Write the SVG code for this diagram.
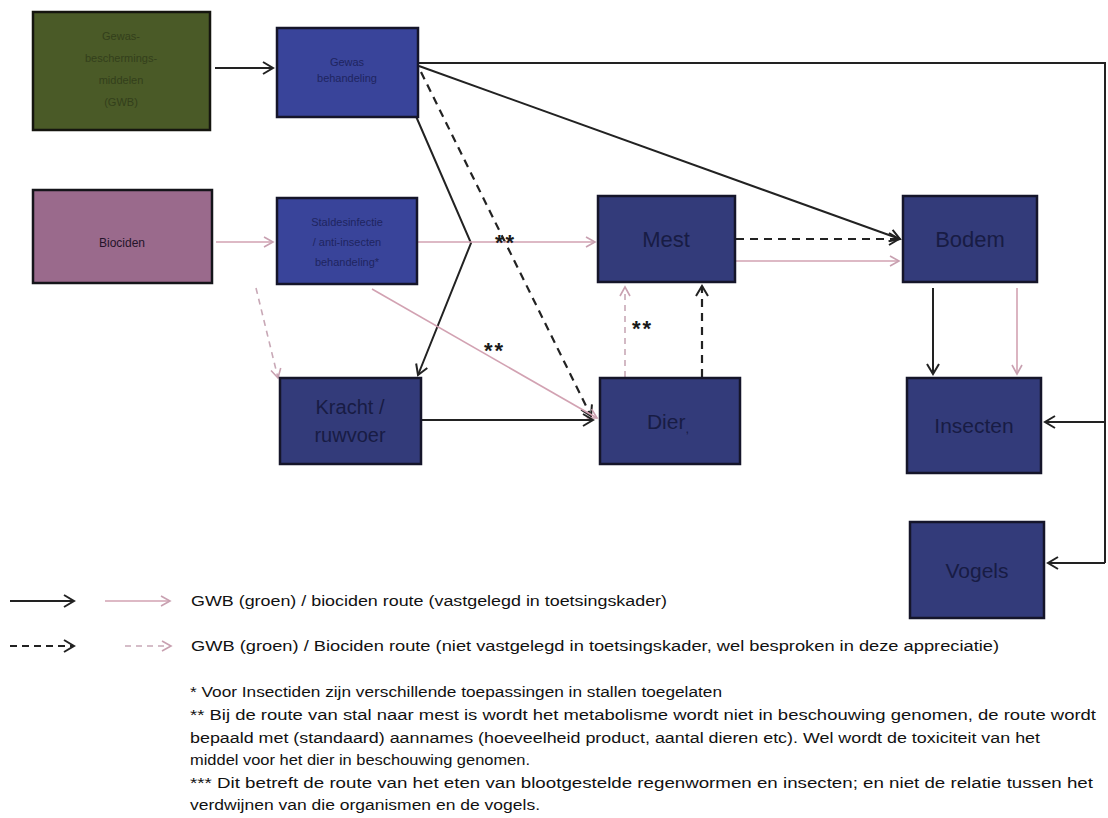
<svg xmlns="http://www.w3.org/2000/svg" width="1108" height="818" viewBox="0 0 1108 818">
<style>
.box{fill:#333b7a;stroke:#15152a;stroke-width:2.5}
.bt{font-family:"Liberation Sans",Arial,sans-serif;fill:#181c44;text-anchor:middle}
.k{fill:none;stroke:#222;stroke-width:2}
.kd{fill:none;stroke:#222;stroke-width:2.2;stroke-dasharray:8 6}
.p{fill:none;stroke:#d2a2b2;stroke-width:1.6}
.pd{fill:none;stroke:#c8a8b6;stroke-width:1.6;stroke-dasharray:6 5}
.t{font-family:"Liberation Sans",Arial,sans-serif;font-size:14px;fill:#111}
.st{font-family:"Liberation Sans",Arial,sans-serif;font-size:22px;font-weight:bold;fill:#1a1a1a;letter-spacing:2px}
</style>
<defs>
<marker id="ak" markerWidth="14" markerHeight="14" refX="12" refY="7" orient="auto" markerUnits="userSpaceOnUse"><path d="M2,1 L12,7 L2,13" fill="none" stroke="#222" stroke-width="2"/></marker>
<marker id="ap" markerWidth="14" markerHeight="14" refX="12" refY="7" orient="auto" markerUnits="userSpaceOnUse"><path d="M3,2 L12,7 L3,12" fill="none" stroke="#c8a0b0" stroke-width="1.6"/></marker>
</defs>
<rect width="1108" height="818" fill="#ffffff"/>

<g id="connectors">
<line class="k" x1="215" y1="68" x2="273" y2="68" marker-end="url(#ak)"/>
<polyline class="k" points="418,63 1105,63 1105,563"/>
<line class="k" x1="1105" y1="422" x2="1045" y2="422" marker-end="url(#ak)"/>
<line class="k" x1="1105" y1="563" x2="1048" y2="563" marker-end="url(#ak)"/>
<line class="k" x1="419" y1="66" x2="900" y2="239" marker-end="url(#ak)"/>
<line class="kd" x1="421" y1="72" x2="591" y2="416" marker-end="url(#ak)"/>
<polyline class="k" points="415,114 471,243 418,375" marker-end="url(#ak)"/>
<line class="p" x1="216" y1="242" x2="273" y2="242" marker-end="url(#ap)"/>
<line class="p" x1="418" y1="242" x2="595" y2="242" marker-end="url(#ap)"/>
<line class="p" x1="372" y1="289" x2="597" y2="418" marker-end="url(#ap)"/>
<line class="pd" x1="256" y1="288" x2="278" y2="378" marker-end="url(#ap)"/>
<line class="k" x1="421" y1="420" x2="593" y2="420" marker-end="url(#ak)"/>
<line class="pd" x1="625" y1="377" x2="625" y2="287" marker-end="url(#ap)"/>
<line class="kd" x1="702" y1="377" x2="702" y2="286" marker-end="url(#ak)"/>
<line class="kd" x1="736" y1="239" x2="899" y2="239" marker-end="url(#ak)"/>
<line class="p" x1="736" y1="261" x2="899" y2="261" marker-end="url(#ap)"/>
<line class="k" x1="933" y1="288" x2="933" y2="374" marker-end="url(#ak)"/>
<line class="p" x1="1017" y1="288" x2="1017" y2="374" marker-end="url(#ap)"/>
<text class="st" x="495" y="250">**</text>
<text class="st" x="484" y="358">**</text>
<text class="st" x="632" y="336">**</text>
</g>

<g id="gwb">
<rect x="33" y="12" width="177" height="118" fill="#4a5a27" stroke="#15150f" stroke-width="2.5"/>
<text class="bt" x="121" y="40" font-size="11" style="fill:#333f1b">Gewas-</text>
<text class="bt" x="121" y="62" font-size="11" style="fill:#333f1b">beschermings-</text>
<text class="bt" x="121" y="84" font-size="11" style="fill:#333f1b">middelen</text>
<text class="bt" x="121" y="106" font-size="11" style="fill:#333f1b">(GWB)</text>
</g>
<g id="gewasbehandeling">
<rect class="box" x="277" y="28" width="141" height="89" style="fill:#39449a"/>
<text class="bt" x="347" y="66" font-size="11" style="fill:#1f2560">Gewas</text>
<text class="bt" x="347" y="82" font-size="11" style="fill:#1f2560">behandeling</text>
</g>
<g id="biociden">
<rect x="33" y="190" width="179" height="93" fill="#9a6a8c" stroke="#15151a" stroke-width="2.5"/>
<text class="bt" x="122" y="247" font-size="12" style="fill:#24142a">Biociden</text>
</g>
<g id="stal">
<rect class="box" x="277" y="198" width="140" height="86" style="fill:#39449a"/>
<text class="bt" x="347" y="226" font-size="11" style="fill:#1f2560">Staldesinfectie</text>
<text class="bt" x="347" y="246" font-size="11" style="fill:#1f2560">/ anti-insecten</text>
<text class="bt" x="347" y="266" font-size="11" style="fill:#1f2560">behandeling*</text>
</g>
<g id="kracht">
<rect class="box" x="280" y="378" width="141" height="86"/>
<text class="bt" x="350" y="414" font-size="20">Kracht /</text>
<text class="bt" x="350" y="442" font-size="20">ruwvoer</text>
</g>
<g id="mest">
<rect class="box" x="598" y="196" width="137" height="86"/>
<text class="bt" x="666" y="247" font-size="22">Mest</text>
</g>
<g id="dier">
<rect class="box" x="600" y="378" width="140" height="86"/>
<text class="bt" x="668" y="429" font-size="21">Dier<tspan font-size="13" dy="4">,</tspan></text>
</g>
<g id="bodem">
<rect class="box" x="903" y="196" width="134" height="86"/>
<text class="bt" x="970" y="247" font-size="22">Bodem</text>
</g>
<g id="insecten">
<rect class="box" x="907" y="378" width="134" height="95"/>
<text class="bt" x="974" y="433" font-size="21">Insecten</text>
</g>
<g id="vogels">
<rect class="box" x="910" y="522" width="134" height="96"/>
<text class="bt" x="977" y="578" font-size="21">Vogels</text>
</g>

<g id="legend">
<line class="k" x1="10" y1="601" x2="74" y2="601" marker-end="url(#ak)"/>
<line class="p" x1="105" y1="601" x2="170" y2="601" marker-end="url(#ap)"/>
<line class="kd" x1="10" y1="646" x2="74" y2="646" marker-end="url(#ak)" style="stroke-dasharray:7 5"/>
<line class="pd" x1="125" y1="646" x2="171" y2="646" marker-end="url(#ap)"/>
<text class="t" x="191" y="606" textLength="476" lengthAdjust="spacingAndGlyphs">GWB (groen) / biociden route (vastgelegd in toetsingskader)</text>
<text class="t" x="191" y="651" textLength="808" lengthAdjust="spacingAndGlyphs">GWB  (groen) / Biociden route (niet vastgelegd in toetsingskader, wel besproken in deze appreciatie)</text>
<text class="t" x="190" y="697" textLength="532" lengthAdjust="spacingAndGlyphs">* Voor Insectiden zijn verschillende toepassingen in stallen toegelaten</text>
<text class="t" x="190" y="720" textLength="906" lengthAdjust="spacingAndGlyphs">** Bij de route van stal naar mest is wordt het metabolisme wordt niet in beschouwing genomen, de route wordt</text>
<text class="t" x="190" y="743" textLength="850" lengthAdjust="spacingAndGlyphs">bepaald met (standaard) aannames (hoeveelheid product, aantal dieren etc). Wel wordt de toxiciteit van het</text>
<text class="t" x="190" y="765" textLength="340" lengthAdjust="spacingAndGlyphs">middel voor het dier in beschouwing genomen.</text>
<text class="t" x="190" y="788" textLength="903" lengthAdjust="spacingAndGlyphs">*** Dit betreft de route van het eten van blootgestelde regenwormen en insecten; en niet de relatie tussen het</text>
<text class="t" x="190" y="810" textLength="350" lengthAdjust="spacingAndGlyphs">verdwijnen van die organismen en de vogels.</text>
</g>
</svg>
